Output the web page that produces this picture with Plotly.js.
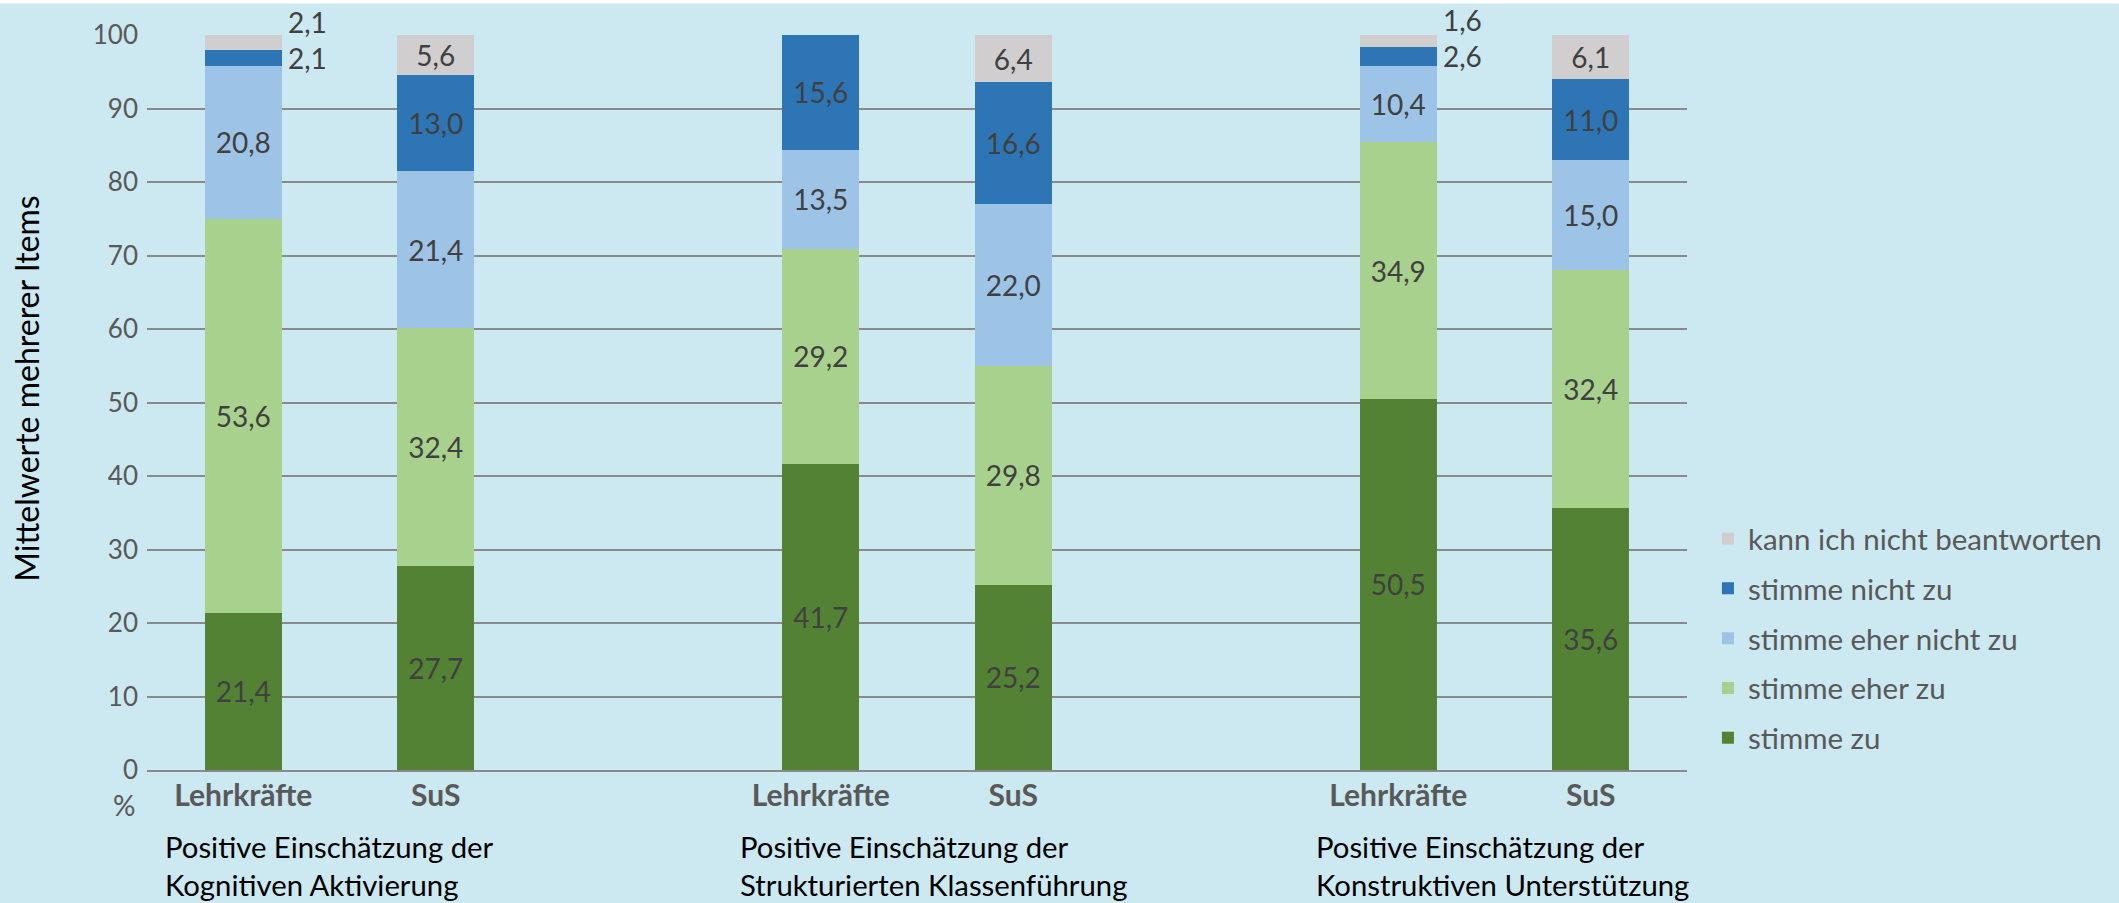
<!DOCTYPE html>
<html>
<head>
<meta charset="utf-8">
<script src="https://cdn.plot.ly/plotly-3.0.1.min.js"></script>
<style>
html,body{margin:0;padding:0;background:#cce8f0;}
#chart{width:2119px;height:903px;}
</style>
</head>
<body>
<div id="chart"></div>
<script>
// ---- data ----
const barLabels = ["Lehrkräfte", "SuS", "Lehrkräfte", "SuS", "Lehrkräfte", "SuS"];
const barPositions = [0, 1, 3, 4, 6, 7];
const groupLabels = [
  "Positive Einschätzung der<br>Kognitiven Aktivierung",
  "Positive Einschätzung der<br>Strukturierten Klassenführung",
  "Positive Einschätzung der<br>Konstruktiven Unterstützung"
];
const seriesNames = ["stimme zu", "stimme eher zu", "stimme eher nicht zu", "stimme nicht zu", "kann ich nicht beantworten"];
const stimmeZu        = [21.4, 27.7, 41.7, 25.2, 50.5, 35.6];
const stimmeEherZu    = [53.6, 32.4, 29.2, 29.8, 34.9, 32.4];
const stimmeEherNicht = [20.8, 21.4, 13.5, 22.0, 10.4, 15.0];
const stimmeNicht     = [2.1, 13.0, 15.6, 16.6, 2.6, 11.0];
const kannNicht       = [2.1, 5.6, 0, 6.4, 1.6, 6.1];
const yTicks = [0, 10, 20, 30, 40, 50, 60, 70, 80, 90, 100];
const yTitle = "Mittelwerte mehrerer Items";

// ---- styles ----
const colors = ["#548235", "#A9D18E", "#9DC3E6", "#2E75B6", "#D0CECE"];
const FONT = "Lato, 'Open Sans', sans-serif";
const LABEL_COLOR = "#404040";
const BAR_WIDTH = 0.4;
const SMALL = 4; // segments smaller than this get an outside label

const series = [stimmeZu, stimmeEherZu, stimmeEherNicht, stimmeNicht, kannNicht];
const fmt = v => v.toFixed(1).replace(".", ",");

const traces = series.map((vals, si) => ({
  type: "bar",
  name: seriesNames[si],
  legendgroup: "g" + si,
  legendrank: series.length - si,
  x: barPositions,
  y: vals,
  width: BAR_WIDTH,
  marker: {color: colors[si], line: {width: 0}},
  text: vals.map(v => (v >= SMALL ? fmt(v) : "")),
  textposition: "inside",
  insidetextanchor: "middle",
  textangle: 0,
  textfont: {family: FONT, size: 28, color: LABEL_COLOR},
  hoverinfo: "skip",
  showlegend: true
}));

// outside labels for small segments, positioned from the data
const annotations = [];
barPositions.forEach((xp, bi) => {
  let cum = 0;
  series.forEach((vals, si) => {
    const v = vals[bi];
    const mid = cum + v / 2;
    cum += v;
    if (v > 0 && v < SMALL) {
      const isTop = si === series.length - 1;
      annotations.push({
        x: xp + BAR_WIDTH / 2, y: mid, xref: "x", yref: "y",
        text: fmt(v), showarrow: false, xanchor: "left", yanchor: "middle",
        xshift: 4, yshift: isTop ? 21 : 0,
        font: {family: FONT, size: 28, color: LABEL_COLOR}
      });
    }
  });
});

// group labels beneath the axis
const groupX = [0.0107, 0.384, 0.758];
groupLabels.forEach((g, i) => {
  annotations.push({
    x: groupX[i], y: -0.0775, xref: "paper", yref: "paper",
    text: g, showarrow: false, xanchor: "left", yanchor: "top", align: "left",
    font: {family: FONT, size: 29.3, color: "#000000"}
  });
});
// percent sign below the 0 tick
annotations.push({
  x: -0.0149, y: -0.0476, xref: "paper", yref: "paper", text: "%", showarrow: false,
  xanchor: "center", yanchor: "middle", font: {family: FONT, size: 28, color: "#595959"}
});
// y axis title
annotations.push({
  x: -0.0785, y: 0.519, xref: "paper", yref: "paper", text: yTitle, showarrow: false,
  textangle: -90, xanchor: "center", yanchor: "middle",
  font: {family: FONT, size: 32, color: "#000000"}
});

const layout = {
  width: 2119, height: 903,
  paper_bgcolor: "#cce8f0", plot_bgcolor: "#cce8f0",
  margin: {l: 147, r: 428, t: 35, b: 132.5, pad: 0},
  barmode: "stack",
  bargap: 0,
  font: {family: FONT, color: "#595959"},
  xaxis: {
    range: [-0.5, 7.5],
    tickvals: barPositions,
    ticktext: barLabels.map(l => "<b>" + l + "</b>"),
    tickfont: {family: FONT, size: 30, color: "#595959"},
    showgrid: false, zeroline: false,
    showline: true, linecolor: "#8a8a8a", linewidth: 2,
    ticks: "", ticklabelstandoff: -2, fixedrange: true
  },
  yaxis: {
    range: [0, 100],
    tickvals: yTicks,
    ticktext: yTicks.map(String),
    tickfont: {family: FONT, size: 26, color: "#595959"},
    showgrid: true, gridcolor: "#8a8a8a", gridwidth: 2,
    zeroline: false, showline: false, ticks: "",
    ticklabelstandoff: 8,
    fixedrange: true
  },
  legend: {
    x: 1.0136, xanchor: "left", y: 0.35, yanchor: "top",
    traceorder: "grouped", tracegroupgap: 8.5,
    font: {family: FONT, size: 29.5, color: "#595959"},
    bgcolor: "rgba(0,0,0,0)", borderwidth: 0
  },
  shapes: [
    {type: "rect", xref: "paper", yref: "paper", x0: -0.2, x1: 1.4, y0: 1.0428, y1: 1.06,
     fillcolor: "#ffffff", line: {width: 0}, layer: "above"}
  ],
  annotations: annotations,
  showlegend: true
};

Plotly.newPlot("chart", traces, layout, {displayModeBar: false, staticPlot: true});
</script>
</body>
</html>
